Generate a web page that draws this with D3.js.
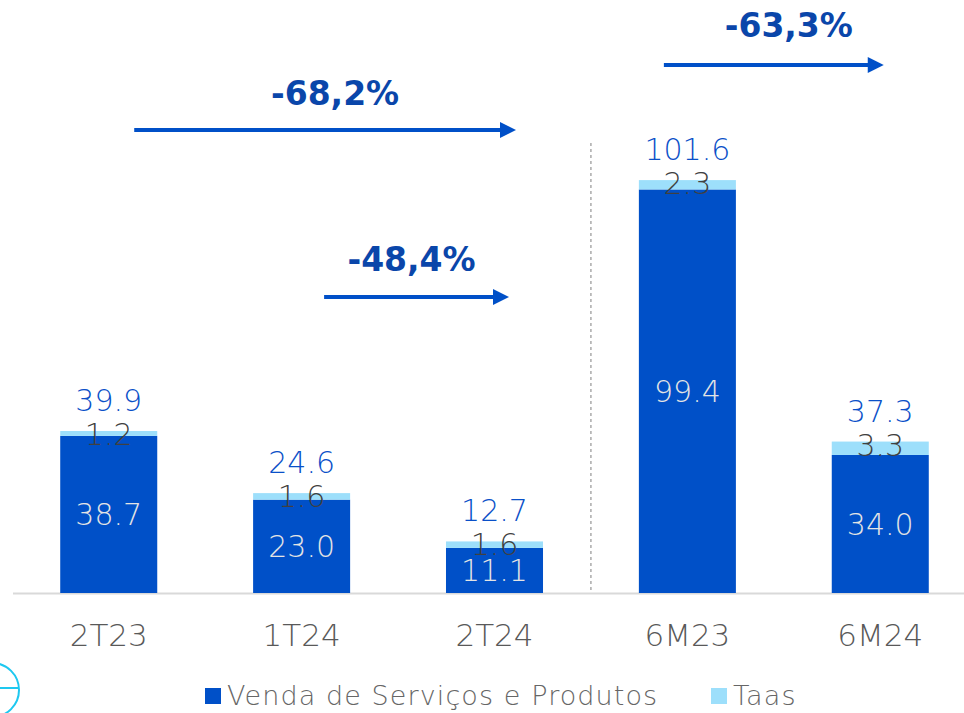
<!DOCTYPE html>
<html>
<head>
<meta charset="utf-8">
<script src="https://cdn.jsdelivr.net/npm/d3@7"></script>
<style>
  html, body { margin: 0; padding: 0; background: #fff; }
  svg { display: block; font-family: "DejaVu Sans", "Noto Sans", sans-serif; }
</style>
</head>
<body>
<div id="chart"></div>
<script>
// categories and values
const categories = ['2T23', '1T24', '2T24', '6M23', '6M24'];
const vendaValues = [38.7, 23.0, 11.1, 99.4, 34.0];
const taasValues = [1.2, 1.6, 1.6, 2.3, 3.3];
const totalLabels = ['39.9', '24.6', '12.7', '101.6', '37.3'];
const seriesNames = ['Venda de Serviços e Produtos', 'Taas'];

// variation arrows: label, start category, end category
const changeLabels = ['-68,2%', '-48,4%', '-63,3%'];
const changeFrom = ['2T23', '1T24', '6M23'];
const changeTo = ['2T24', '2T24', '6M24'];

const width = 964, height = 713;
const baseY = 593;
const darkBlue = '#0050c8', lightBlue = '#9ddffb';

const svg = d3.select('#chart').append('svg')
    .attr('width', width)
    .attr('height', height);

const x = d3.scaleBand()
    .domain(categories)
    .range([12, 977])
    .paddingInner(0.497)
    .paddingOuter(0.25);

const y = d3.scaleLinear()
    .domain([0, 110])
    .range([baseY, baseY - 110 * 4.06]);

const fmt = d3.format('.1f');

// axis line
svg.append('line')
    .attr('x1', 13).attr('x2', width)
    .attr('y1', baseY + 0.5).attr('y2', baseY + 0.5)
    .attr('stroke', '#d9d9d9').attr('stroke-width', 2);

// separator between quarters and semesters
const sepX = (x('2T24') + x.bandwidth() + x('6M23')) / 2;
svg.append('line')
    .attr('x1', sepX).attr('x2', sepX)
    .attr('y1', 143).attr('y2', baseY)
    .attr('stroke', '#7f7f7f').attr('stroke-width', 1)
    .attr('stroke-dasharray', '3,3');

const bars = svg.append('g').attr('class', 'bars');

bars.selectAll('.bar-venda')
    .data(categories)
    .enter().append('rect')
    .attr('class', 'bar-venda')
    .attr('x', d => x(d))
    .attr('width', x.bandwidth())
    .attr('y', (d, i) => y(vendaValues[i]))
    .attr('height', (d, i) => y(0) - y(vendaValues[i]))
    .attr('fill', darkBlue);

bars.selectAll('.bar-taas')
    .data(categories)
    .enter().append('rect')
    .attr('class', 'bar-taas')
    .attr('x', d => x(d))
    .attr('width', x.bandwidth())
    .attr('y', (d, i) => y(vendaValues[i] + taasValues[i]))
    .attr('height', (d, i) => y(vendaValues[i]) - y(vendaValues[i] + taasValues[i]))
    .attr('fill', lightBlue);

// labels inside dark segment
bars.selectAll('.lbl-venda')
    .data(categories)
    .enter().append('text')
    .attr('class', 'lbl-venda')
    .attr('x', d => x(d) + x.bandwidth() / 2)
    .attr('y', (d, i) => (y(0) + y(vendaValues[i])) / 2 + 11)
    .attr('text-anchor', 'middle')
    .attr('font-size', 30)
    .attr('font-weight', 300)
    .attr('fill', '#e4e4e4')
    .text((d, i) => fmt(vendaValues[i]));

// Taas labels
bars.selectAll('.lbl-taas')
    .data(categories)
    .enter().append('text')
    .attr('class', 'lbl-taas')
    .attr('x', d => x(d) + x.bandwidth() / 2)
    .attr('y', (d, i) => y(vendaValues[i] + taasValues[i]) + 14)
    .attr('text-anchor', 'middle')
    .attr('font-size', 30)
    .attr('font-weight', 300)
    .attr('fill', '#404040')
    .text((d, i) => fmt(taasValues[i]));

// totals
bars.selectAll('.lbl-total')
    .data(categories)
    .enter().append('text')
    .attr('class', 'lbl-total')
    .attr('x', d => x(d) + x.bandwidth() / 2)
    .attr('y', (d, i) => y(vendaValues[i] + taasValues[i]) - 20)
    .attr('text-anchor', 'middle')
    .attr('font-size', 30)
    .attr('font-weight', 300)
    .attr('fill', '#0a50c8')
    .text((d, i) => totalLabels[i]);

// category labels
svg.append('g').selectAll('text')
    .data(categories)
    .enter().append('text')
    .attr('x', d => x(d) + x.bandwidth() / 2)
    .attr('y', 646)
    .attr('text-anchor', 'middle')
    .attr('font-size', 31)
    .attr('font-weight', 300)
    .attr('fill', '#595959')
    .text(d => d);

// change arrows
const arrowY = [130, 297, 65];
const arrowStartOff = [74, 71, 25];
const arrowEndOff = [70, 63, 52];
const textShift = [10, -5, 15];
const textY = [105, 271, 37];

const arrows = svg.append('g').attr('class', 'arrows');
changeLabels.forEach((lbl, i) => {
    const x1 = x(changeFrom[i]) + arrowStartOff[i];
    const x2 = x(changeTo[i]) + arrowEndOff[i];
    const g = arrows.append('g');
    g.append('line')
        .attr('x1', x1).attr('x2', x2 - 14)
        .attr('y1', arrowY[i]).attr('y2', arrowY[i])
        .attr('stroke', darkBlue).attr('stroke-width', 4);
    g.append('path')
        .attr('d', `M${x2 - 16},${arrowY[i] - 8} L${x2},${arrowY[i]} L${x2 - 16},${arrowY[i] + 8} Z`)
        .attr('fill', darkBlue);
    g.append('text')
        .attr('x', (x1 + x2) / 2 + textShift[i])
        .attr('y', textY[i])
        .attr('text-anchor', 'middle')
        .attr('font-size', 33)
        .attr('font-weight', 'bold')
        .attr('fill', '#0a46aa')
        .text(lbl);
});

// legend
const legend = svg.append('g').attr('class', 'legend');
const legendX = [205, 711];
const legendColors = [darkBlue, lightBlue];
seriesNames.forEach((name, i) => {
    legend.append('rect')
        .attr('x', legendX[i]).attr('y', 688)
        .attr('width', 16).attr('height', 16)
        .attr('fill', legendColors[i]);
    legend.append('text')
        .attr('x', legendX[i] + 22).attr('y', 705)
        .attr('font-size', 27)
        .attr('font-weight', 300)
        .attr('letter-spacing', 1.1)
        .attr('fill', '#666')
        .text(name);
});

// partial logo in bottom-left corner
svg.append('circle')
    .attr('cx', -8).attr('cy', 690).attr('r', 27)
    .attr('fill', 'none').attr('stroke', '#1ec8f0').attr('stroke-width', 2);
svg.append('line')
    .attr('x1', 0).attr('x2', 18).attr('y1', 688).attr('y2', 688)
    .attr('stroke', '#1ec8f0').attr('stroke-width', 2);
</script>
</body>
</html>
